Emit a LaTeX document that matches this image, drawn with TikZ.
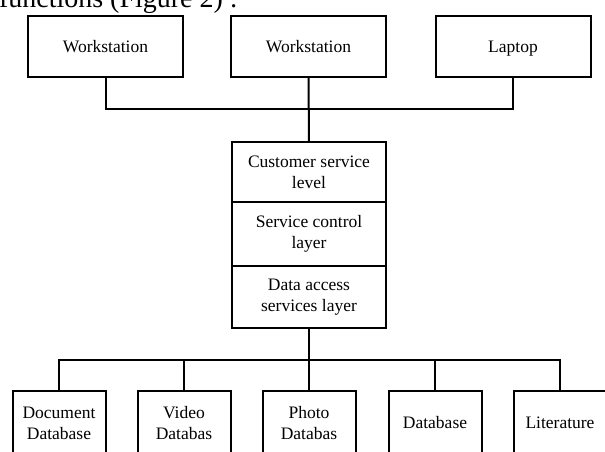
\documentclass[tikz,border=0pt]{standalone}
\usepackage{fontspec}
\setmainfont{Liberation Serif}
\begin{document}
\begin{tikzpicture}[x=1pt,y=-1pt,line width=2pt,
  box/.style={draw,rectangle,inner sep=0pt,outer sep=0pt,align=center,font=\fontsize{17.5}{21}\selectfont},
  topbox/.style={box,minimum width=155pt,minimum height=61pt,text depth=0pt},
  midbox/.style={box,minimum width=154pt},
  botbox/.style={box,minimum width=93pt,minimum height=64pt},
  conn/.style={line width=2pt}]
\useasboundingbox (0,0) rectangle (605,451);
\clip (0,0) rectangle (605,451);
\node[anchor=base west,inner sep=0pt,font=\fontsize{28}{34}\selectfont] (cap) at (-2,7) {functions (Figure 2) :};
% top row
\node[topbox] (ws1) at (105.5,46.5) {Workstation};
\node[topbox] (ws2) at (308.5,46.5) {Workstation};
\node[topbox] (lap) at (513,46.5) {Laptop};
% middle stack
\node[midbox,minimum height=60pt] (m1) at (309,172) {Customer service\\level};
\node[midbox,minimum height=64pt] (m2) at (309,234) {Service control\\layer};
\node[midbox,minimum height=62pt] (m3) at (309,297) {Data access\\services layer};
% bottom row
\node[botbox] (b1) at (59,423) {Document\\Database};
\node[botbox] (b2) at (184,423) {Video\\Databas};
\node[botbox] (b3) at (309,423) {Photo\\Databas};
\node[botbox] (b4) at (435,423) {Database};
\node[botbox] (b5) at (560,423) {Literature};
% connectors
\coordinate (jt) at (309,109);
\coordinate (jb) at (309,360);
\draw[conn] (ws1.south) |- (jt) -| (lap.south);
\draw[conn] (ws2.south) -- (m1.north);
\draw[conn] (b1.north) |- (jb) -| (b5.north);
\draw[conn] (m3.south) -- (b3.north);
\draw[conn] (b2.north) -- (b2.north |- jb);
\draw[conn] (b4.north) -- (b4.north |- jb);
\end{tikzpicture}
\end{document}
